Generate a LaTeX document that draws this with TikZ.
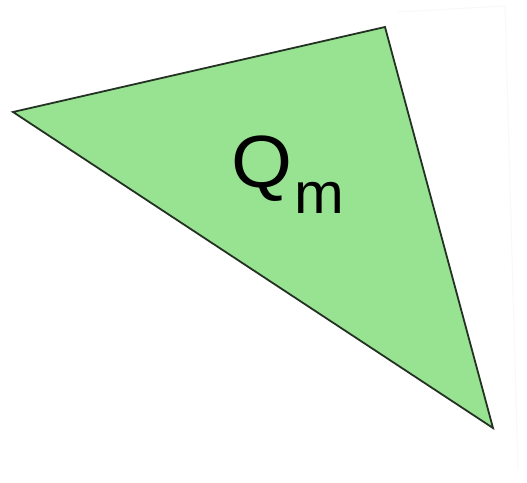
\documentclass[tikz,border=0pt]{standalone}
\usepackage{fontspec}
\setmainfont{Liberation Sans}
\definecolor{trifill}{RGB}{152,227,146}
\definecolor{triline}{RGB}{35,50,35}
\definecolor{faint}{RGB}{248,248,248}
\tikzset{
  tri/.style={fill=trifill, draw=triline, line width=1.8pt, line join=miter},
  faintline/.style={draw=faint, line width=1pt},
  lbl/.style={inner sep=0pt, anchor=base west, text=black}
}
\begin{document}
\begin{tikzpicture}[x=1pt,y=-1pt]
\useasboundingbox (0,0) rectangle (527,482);
\fill[white] (0,0) rectangle (527,482);
\coordinate (fa) at (398,12);
\coordinate (fb) at (505,6);
\coordinate (fc) at (518,470);
\draw[faintline] (fa) -- (fb) -- (fc);
\coordinate (L) at (13,112);
\coordinate (T) at (385,27);
\coordinate (B) at (493,428);
\draw[tri] (L) -- (T) -- (B) -- cycle;
\node[lbl] (q) at (231,187) {\scalebox{1.06}[1]{\fontsize{74}{80}\selectfont Q}\kern2pt\raisebox{-26pt}{\scalebox{1.03}[1]{\fontsize{58}{60}\selectfont m}}};
\end{tikzpicture}
\end{document}
